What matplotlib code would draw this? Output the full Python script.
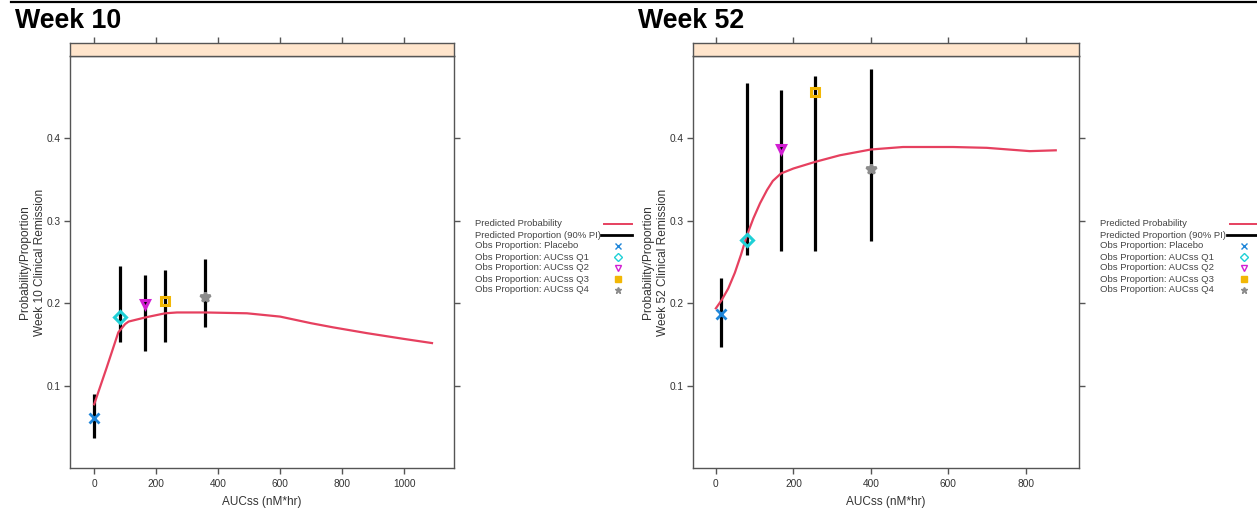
import matplotlib
matplotlib.use("Agg")
import matplotlib.pyplot as plt
from matplotlib.lines import Line2D

plt.rcParams["font.family"] = ["Liberation Sans", "DejaVu Sans"]

# Week 10 数据
wk10_pred_auc = [0, 40, 78, 100, 111, 165, 229, 267, 358, 493, 600, 700, 771, 880, 1000, 1090]
wk10_pred_prob = [0.078, 0.122, 0.165, 0.175, 0.178, 0.183, 0.188, 0.189, 0.189, 0.188,
                  0.184, 0.176, 0.171, 0.164, 0.157, 0.152]
wk10_obs_auc = [0, 84, 165, 229, 358]
wk10_obs_prop = [0.061, 0.183, 0.199, 0.203, 0.208]
wk10_pi_lo = [0.037, 0.153, 0.142, 0.153, 0.172]
wk10_pi_hi = [0.090, 0.245, 0.234, 0.240, 0.254]

# Week 52 数据
wk52_pred_auc = [0, 15, 32, 49, 65, 80, 97, 114, 132, 147, 168, 200, 256, 320, 400, 483,
                 612, 699, 810, 877]
wk52_pred_prob = [0.194, 0.204, 0.218, 0.237, 0.259, 0.282, 0.303, 0.321, 0.337, 0.348,
                  0.357, 0.363, 0.371, 0.379, 0.386, 0.389, 0.389, 0.388, 0.384, 0.385]
wk52_obs_auc = [13, 80, 168, 256, 400]
wk52_obs_prop = [0.187, 0.276, 0.386, 0.455, 0.362]
wk52_pi_lo = [0.147, 0.259, 0.263, 0.263, 0.275]
wk52_pi_hi = [0.231, 0.466, 0.458, 0.475, 0.483]

groups = ["Placebo", "AUCss Q1", "AUCss Q2", "AUCss Q3", "AUCss Q4"]
group_colors = ["#1f86d9", "#1fd0d6", "#d21fd2", "#f2b705", "#8c8c8c"]
group_markers = ["x", "D", "v", "s", "*"]
legend_labels = ["Predicted Probability", "Predicted Proportion (90% PI)"] + \
                ["Obs Proportion: " + g for g in groups]

RED = "#e6405f"
AXC = "#555555"
W, H = 1257, 511


def fig_box(x0, y0, x1, y1):
    # 像素坐标 -> figure 坐标
    return [x0 / W, 1 - y1 / H, (x1 - x0) / W, (y1 - y0) / H]


def fx(px):
    return px / W


def fy(py):
    return 1 - py / H


def draw_legend(fig, text_x, key_x0, key_x1):
    # 手动画图例：文字左对齐，图例符号放在右边
    row_y = [224 + 11 * i for i in range(len(legend_labels))]
    key_mid = (key_x0 + key_x1) / 2
    for i, lab in enumerate(legend_labels):
        fig.text(fx(text_x), fy(row_y[i]), lab, fontsize=6.8, color="#444444",
                 va="center", ha="left")
    fig.add_artist(Line2D([fx(key_x0), fx(key_x1)], [fy(row_y[0])] * 2, color=RED, lw=1.4))
    fig.add_artist(Line2D([fx(key_x0 - 3), fx(key_x1)], [fy(row_y[1])] * 2, color="black", lw=2))
    for i in range(len(groups)):
        m = group_markers[i]
        filled = m in ("s", "*", "x")
        fig.add_artist(Line2D([fx(key_mid)], [fy(row_y[i + 2])], marker=m, ls="none",
                              ms=4.5, mew=1,
                              mfc=group_colors[i] if filled else "none",
                              mec=group_colors[i], color=group_colors[i]))


def draw_panel(fig, px_left, px_right, xlim, xticks, title, title_x, week,
               pred_x, pred_y, obs_x, obs_y, lo, hi):
    ax = fig.add_axes(fig_box(px_left, 56, px_right, 468))
    strip = fig.add_axes(fig_box(px_left, 43, px_right, 56), sharex=ax)

    ax.vlines(obs_x, lo, hi, color="black", lw=2.3, zorder=2)
    ax.plot(pred_x, pred_y, color=RED, lw=1.6, zorder=3)
    for i in range(len(obs_x)):
        m = group_markers[i]
        if m in ("x", "*"):
            ax.plot(obs_x[i], obs_y[i], marker=m, ms=7, mew=2, color=group_colors[i],
                    ls="none", zorder=4)
        else:
            ax.plot(obs_x[i], obs_y[i], marker=m, ms=6, mew=2.2, mfc="none",
                    mec=group_colors[i], ls="none", zorder=4)

    ax.set_xlim(xlim)
    ax.set_ylim(0.001, 0.499)
    ax.set_xticks(xticks)
    ax.set_yticks([0.1, 0.2, 0.3, 0.4])
    ax.set_yticklabels(["0.1", "0.2", "0.3", "0.4"])
    ax.tick_params(axis="both", direction="out", length=4, width=1, color=AXC,
                   labelsize=7.3, labelcolor="#333333", pad=2.5)
    ax.tick_params(axis="x", pad=4)
    ax.tick_params(axis="y", right=True)
    for s in ax.spines.values():
        s.set_color(AXC)
        s.set_linewidth(1)
    ax.set_xlabel("AUCss (nM*hr)", fontsize=8.5, color="#333333", labelpad=5)
    ax.set_ylabel("Probability/Proportion\nWeek %s Clinical Remission" % week,
                  fontsize=8.6, color="#333333", labelpad=0.5, linespacing=1.35)

    strip.set_facecolor("#ffe5cc")
    strip.set_yticks([])
    strip.tick_params(axis="x", bottom=False, labelbottom=False, top=True,
                      direction="out", length=4, width=1, color=AXC)
    for s in strip.spines.values():
        s.set_color(AXC)
        s.set_linewidth(1)

    fig.text(fx(title_x), fy(28), title, fontsize=19.3, fontweight="bold", va="baseline")
    return ax


fig = plt.figure(figsize=(W / 100, H / 100), dpi=100)
fig.add_artist(Line2D([fx(11), 1.0], [fy(2), fy(2)], color="black", lw=1.6))

draw_panel(fig, 70, 454, (-78, 1161), [0, 200, 400, 600, 800, 1000], "Week 10", 15, "10",
           wk10_pred_auc, wk10_pred_prob, wk10_obs_auc, wk10_obs_prop,
           wk10_pi_lo, wk10_pi_hi)
draw_legend(fig, 475, 604, 632)

draw_panel(fig, 693, 1079, (-59, 937), [0, 200, 400, 600, 800], "Week 52", 638, "52",
           wk52_pred_auc, wk52_pred_prob, wk52_obs_auc, wk52_obs_prop,
           wk52_pi_lo, wk52_pi_hi)
draw_legend(fig, 1100, 1230, 1258)

fig.savefig("out.png", dpi=100)
